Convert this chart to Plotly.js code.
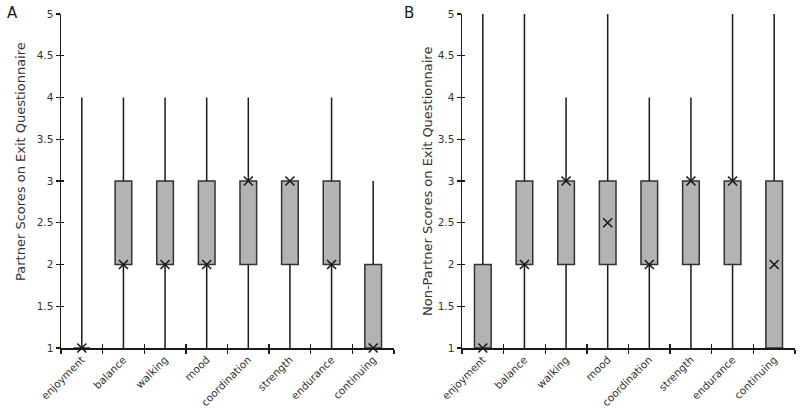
<!DOCTYPE html>
<html>
<head>
<meta charset="utf-8">
<script src="https://cdn.plot.ly/plotly-3.0.1.min.js"></script>
<style>html,body{margin:0;padding:0;background:#fff;}#chart{width:800px;height:409px;}</style>
</head>
<body>
<div id="chart"></div>
<script>
const categories = ["enjoyment","balance","walking","mood","coordination","strength","endurance","continuing"];

// Panel A: Partner scores
const partnerMin    = [1, 1, 1, 1, 1, 1, 1, 1];
const partnerQ1     = [1, 2, 2, 2, 2, 2, 2, 1];
const partnerMedian = [1, 2, 2, 2, 3, 3, 2, 1];
const partnerQ3     = [1, 3, 3, 3, 3, 3, 3, 2];
const partnerMax    = [4, 4, 4, 4, 4, 3, 4, 3];

// Panel B: Non-partner scores
const nonPartnerMin    = [1, 1, 1, 1,   1, 1, 1, 1];
const nonPartnerQ1     = [1, 2, 2, 2,   2, 2, 2, 1];
const nonPartnerMedian = [1, 2, 3, 2.5, 2, 3, 3, 2];
const nonPartnerQ3     = [2, 3, 3, 3,   3, 3, 3, 3];
const nonPartnerMax    = [5, 5, 4, 5,   4, 4, 5, 5];

const yTickVals = [1, 1.5, 2, 2.5, 3, 3.5, 4, 4.5, 5];
const yTickText = ["1", "1.5", "2", "2.5", "3", "3.5", "4", "4.5", "5"];

const FONT = "DejaVu Sans, Verdana, sans-serif";
const INK = "#1a1a1a";

function segs(a, b) {
  const x = [], y = [];
  categories.forEach((c, i) => {
    if (a[i] !== b[i]) { x.push(c, c, null); y.push(a[i], b[i], null); }
  });
  return {x, y};
}

function panelTraces(mn, q1, md, q3, mx, xa, ya) {
  const lo = segs(mn, q1), hi = segs(q3, mx);
  return [
    {type: "bar", x: categories, base: q1, y: q3.map((v, i) => v - q1[i]),
     width: 0.4, xaxis: xa, yaxis: ya,
     marker: {color: "#b3b3b3", line: {color: "#333", width: 1.5}},
     hoverinfo: "skip", showlegend: false},
    {type: "scatter", mode: "lines", x: lo.x, y: lo.y, xaxis: xa, yaxis: ya,
     line: {color: INK, width: 1.5}, connectgaps: false, showlegend: false, cliponaxis: false},
    {type: "scatter", mode: "lines", x: hi.x, y: hi.y, xaxis: xa, yaxis: ya,
     line: {color: INK, width: 1.5}, connectgaps: false, showlegend: false, cliponaxis: false},
    {type: "scatter", mode: "markers", x: categories, y: md, xaxis: xa, yaxis: ya,
     marker: {symbol: "x-thin-open", size: 9, color: INK, line: {color: INK, width: 1.6}},
     showlegend: false, cliponaxis: false}
  ];
}

const data = [
  ...panelTraces(partnerMin, partnerQ1, partnerMedian, partnerQ3, partnerMax, "x", "y"),
  ...panelTraces(nonPartnerMin, nonPartnerQ1, nonPartnerMedian, nonPartnerQ3, nonPartnerMax, "x2", "y2")
];

const yDom = [(409 - 348) / 409, (409 - 14) / 409];
const xDomA = [61 / 800, 394 / 800];
const xDomB = [462 / 800, 795 / 800];

function xAxis(dom, anchor) {
  return {domain: dom, anchor: anchor, type: "category", categoryorder: "array", categoryarray: categories,
    range: [-0.5, 7.5], showgrid: false, zeroline: false, showline: true, linecolor: INK, linewidth: 1.5,
    ticks: "outside", ticklen: 4, tickwidth: 1.3, tickcolor: INK, tickson: "boundaries",
    tickangle: -45, tickfont: {family: FONT, size: 10.5, color: "#333"}, fixedrange: true};
}
function yAxis(dom, anchor) {
  return {domain: yDom, anchor: anchor, range: [1, 5], tickvals: yTickVals, ticktext: yTickText,
    showgrid: false, zeroline: false, showline: true, linecolor: INK, linewidth: 1.5,
    ticks: "outside", ticklen: 4, tickwidth: 1.3, tickcolor: INK,
    tickfont: {family: FONT, size: 10.5, color: "#333"}, fixedrange: true};
}
function yInner(over, anchor) {
  return {overlaying: over, anchor: anchor, side: "left", range: [1, 5], tickvals: yTickVals,
    showticklabels: false, showgrid: false, zeroline: false, showline: false,
    ticks: "inside", ticklen: 3, tickwidth: 1.3, tickcolor: INK, fixedrange: true};
}
function xInner(over, anchor) {
  return {overlaying: over, anchor: anchor, type: "linear", range: [-0.5, 7.5], tick0: -0.5, dtick: 1,
    showticklabels: false, showgrid: false, zeroline: false, showline: false,
    ticks: "inside", ticklen: 4, tickwidth: 1.3, tickcolor: INK, fixedrange: true};
}

const layout = {
  width: 800, height: 409,
  margin: {l: 0, r: 0, t: 0, b: 0},
  paper_bgcolor: "#fff", plot_bgcolor: "#fff",
  showlegend: false, barmode: "overlay",
  font: {family: FONT, color: "#333"},
  xaxis: xAxis(xDomA, "y"),
  yaxis: yAxis(yDom, "x"),
  xaxis2: xAxis(xDomB, "y2"),
  yaxis2: yAxis(yDom, "x2"),
  yaxis3: yInner("y", "x"),
  yaxis4: yInner("y2", "x2"),
  xaxis3: xInner("x", "y"),
  xaxis4: xInner("x2", "y2"),
  annotations: [
    {text: "A", xref: "paper", yref: "paper", x: 12 / 800, y: 1 - 13 / 409, xanchor: "center", yanchor: "middle",
     showarrow: false, font: {family: FONT, size: 15, color: INK}},
    {text: "B", xref: "paper", yref: "paper", x: 409 / 800, y: 1 - 13 / 409, xanchor: "center", yanchor: "middle",
     showarrow: false, font: {family: FONT, size: 15, color: INK}},
    {text: "Partner Scores on Exit Questionnaire", xref: "paper", yref: "paper",
     x: 21 / 800, y: 1 - 162 / 409, xanchor: "center", yanchor: "middle", textangle: -90, showarrow: false,
     font: {family: FONT, size: 13, color: "#333"}},
    {text: "Non-Partner Scores on Exit Questionnaire", xref: "paper", yref: "paper",
     x: 427 / 800, y: 1 - 181 / 409, xanchor: "center", yanchor: "middle", textangle: -90, showarrow: false,
     font: {family: FONT, size: 13, color: "#333"}}
  ]
};

// invisible traces so the overlaid inner-tick axes are drawn
data.push({type: "scatter", x: [0], y: [1], xaxis: "x3", yaxis: "y3", mode: "none", showlegend: false, hoverinfo: "skip"});
data.push({type: "scatter", x: [0], y: [1], xaxis: "x4", yaxis: "y4", mode: "none", showlegend: false, hoverinfo: "skip"});

Plotly.newPlot("chart", data, layout, {displayModeBar: false, staticPlot: true});
</script>
</body>
</html>
